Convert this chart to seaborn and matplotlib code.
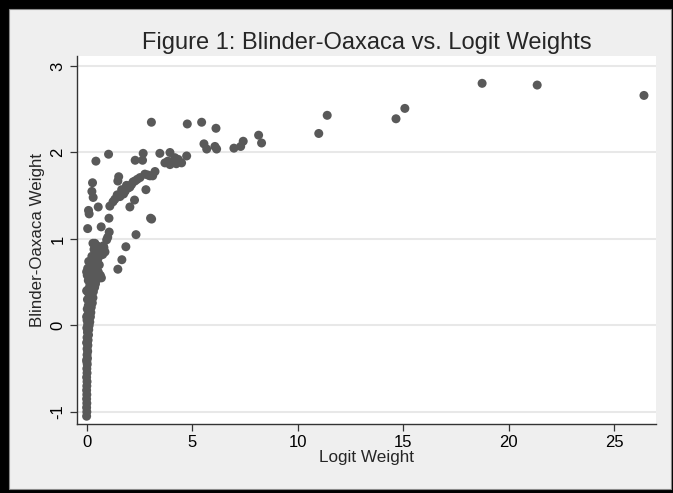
import matplotlib
matplotlib.use("Agg")
import matplotlib.pyplot as plt
import seaborn as sns
import pandas as pd
from matplotlib.patches import Rectangle

# ---- data ----
outlier_x = [26.41, 21.35, 18.74, 15.08, 14.66, 11.40, 11.00,
             8.15, 8.29, 7.42, 7.30, 6.98, 6.16, 6.08, 5.69, 5.56,
             6.13, 5.45, 4.77, 3.07]
outlier_y = [2.66, 2.78, 2.80, 2.51, 2.39, 2.43, 2.22,
             2.20, 2.11, 2.13, 2.07, 2.05, 2.04, 2.07, 2.04, 2.10,
             2.28, 2.35, 2.33, 2.35]

band_x = [3.47, 3.95, 3.71, 3.95, 4.18, 4.50, 4.74, 4.34, 3.85, 4.05, 4.25,
          3.24, 3.13, 3.08,
          1.04, 0.44, 2.30, 2.65, 2.68,
          0.28, 0.25, 0.31, 0.09, 0.12, 0.55, 0.05, 0.69, 1.06,
          1.52, 1.48,
          1.10, 1.34, 1.45, 1.58, 1.66, 1.82, 1.89, 1.97, 2.13, 2.29, 2.40, 2.53,
          2.76, 3.00, 2.90, 1.25, 1.75, 2.05, 2.20,
          2.81, 2.27, 2.05, 3.03, 2.34, 1.86, 1.67, 1.48,
          1.07, 0.95, 0.79, 0.76, 0.39, 0.87, 0.60, 1.00, 0.82, 0.65, 0.70,
          0.25, 0.45, 0.55, 0.35, 0.50, 0.65, 0.30]
band_y = [1.99, 2.00, 1.88, 1.86, 1.94, 1.88, 1.96, 1.92, 1.90, 1.89, 1.87,
          1.78, 1.73, 1.23,
          1.98, 1.90, 1.91, 1.91, 1.99,
          1.65, 1.55, 1.48, 1.33, 1.29, 1.37, 1.12, 1.14, 1.24,
          1.72, 1.67,
          1.38, 1.46, 1.51, 1.49, 1.57, 1.55, 1.62, 1.59, 1.63, 1.67, 1.69, 1.71,
          1.75, 1.73, 1.74, 1.43, 1.52, 1.60, 1.66,
          1.57, 1.45, 1.37, 1.24, 1.05, 0.91, 0.76, 0.65,
          1.08, 0.99, 0.92, 0.82, 0.95, 0.85, 0.90, 1.02, 0.90, 0.58, 0.55,
          0.80, 0.82, 0.78, 0.88, 0.92, 0.85, 0.95]

cluster_x = [0.00, 0.01, 0.00, 0.01, 0.00, 0.01, 0.00, 0.01, 0.02, 0.00, 0.02, 0.01,
             0.03, 0.01, 0.04, 0.02, 0.05, 0.02, 0.06, 0.03,
             0.07, 0.02, 0.09, 0.04, 0.10, 0.01, 0.12, 0.05,
             0.15, 0.02, 0.10, 0.18, 0.05, 0.20, 0.12, 0.03,
             0.22, 0.08, 0.27, 0.15, 0.04, 0.30, 0.20, 0.10, 0.32,
             0.05, 0.25, 0.38, 0.15, 0.42, 0.30, 0.08, 0.48, 0.20, 0.35, 0.03, 0.45,
             0.15, 0.55, 0.30, 0.05, 0.45, 0.20, 0.60, 0.35, 0.10, 0.50,
             0.00, 0.00, 0.00, 0.00, 0.00]
cluster_y = [-1.05, -1.00, -0.95, -0.90, -0.85, -0.80, -0.75, -0.70, -0.65, -0.60, -0.55, -0.50,
             -0.45, -0.42, -0.38, -0.34, -0.30, -0.27, -0.23, -0.20,
             -0.17, -0.14, -0.11, -0.08, -0.05, -0.03, 0.00, 0.01,
             0.04, 0.06, 0.08, 0.10, 0.12, 0.15, 0.17, 0.19,
             0.21, 0.23, 0.26, 0.28, 0.30, 0.32, 0.35, 0.37, 0.39,
             0.41, 0.42, 0.44, 0.46, 0.48, 0.50, 0.52, 0.53, 0.55, 0.57, 0.58, 0.60,
             0.62, 0.62, 0.64, 0.66, 0.67, 0.70, 0.70, 0.72, 0.74, 0.75,
             -0.40, -0.20, 0.10, 0.40, 0.62]

x_ticks = [0, 5, 10, 15, 20, 25]
y_ticks = [-1, 0, 1, 2, 3]

df = pd.DataFrame({
    "logit": outlier_x + band_x + cluster_x,
    "bo": outlier_y + band_y + cluster_y,
})

# ---- style ----
sns.set_style("white")
plt.rcParams["font.family"] = ["Liberation Sans", "DejaVu Sans"]

fig = plt.figure(figsize=(6.73, 4.93), dpi=100)
fig.patch.set_facecolor("black")
frame = Rectangle((9 / 673, 4 / 493), (673 - 11) / 673, (493 - 13) / 493,
                  transform=fig.transFigure, facecolor="#efefef",
                  edgecolor="#8a8a8a", linewidth=0.8, zorder=-10)
fig.patches.append(frame)

ax = fig.add_axes([76.7 / 673, 69 / 493, (656 - 76.7) / 673, (424 - 56) / 493])
ax.set_zorder(1)
ax.set_facecolor("white")

sns.scatterplot(data=df, x="logit", y="bo", ax=ax, color="#595959",
                s=42, edgecolor="none", linewidth=0, zorder=3)

ax.set_xlim(-0.47, 26.98)
ax.set_ylim(-1.14, 3.116)
ax.set_xticks(x_ticks)
ax.set_yticks(y_ticks)
ax.set_yticklabels([str(t) for t in y_ticks], rotation=90, va="center")
ax.tick_params(axis="both", which="major", length=5, width=0.9, color="#333333",
               labelsize=12, labelcolor="black", pad=3, direction="out",
               bottom=True, left=True)

ax.grid(axis="y", color="#e8e8e8", linewidth=1.5, zorder=0)
ax.grid(axis="x", visible=False)
ax.set_axisbelow(True)

for side in ["top", "right"]:
    ax.spines[side].set_visible(False)
for side in ["left", "bottom"]:
    ax.spines[side].set_color("#333333")
    ax.spines[side].set_linewidth(1.0)

ax.set_xlabel("Logit Weight", fontsize=12.3, labelpad=0)
ax.set_ylabel("Blinder-Oaxaca Weight", fontsize=12.2, labelpad=4)
ax.set_title("Figure 1: Blinder-Oaxaca vs. Logit Weights", fontsize=17, pad=5)

fig.savefig("out.png", dpi=100, facecolor=fig.get_facecolor())
